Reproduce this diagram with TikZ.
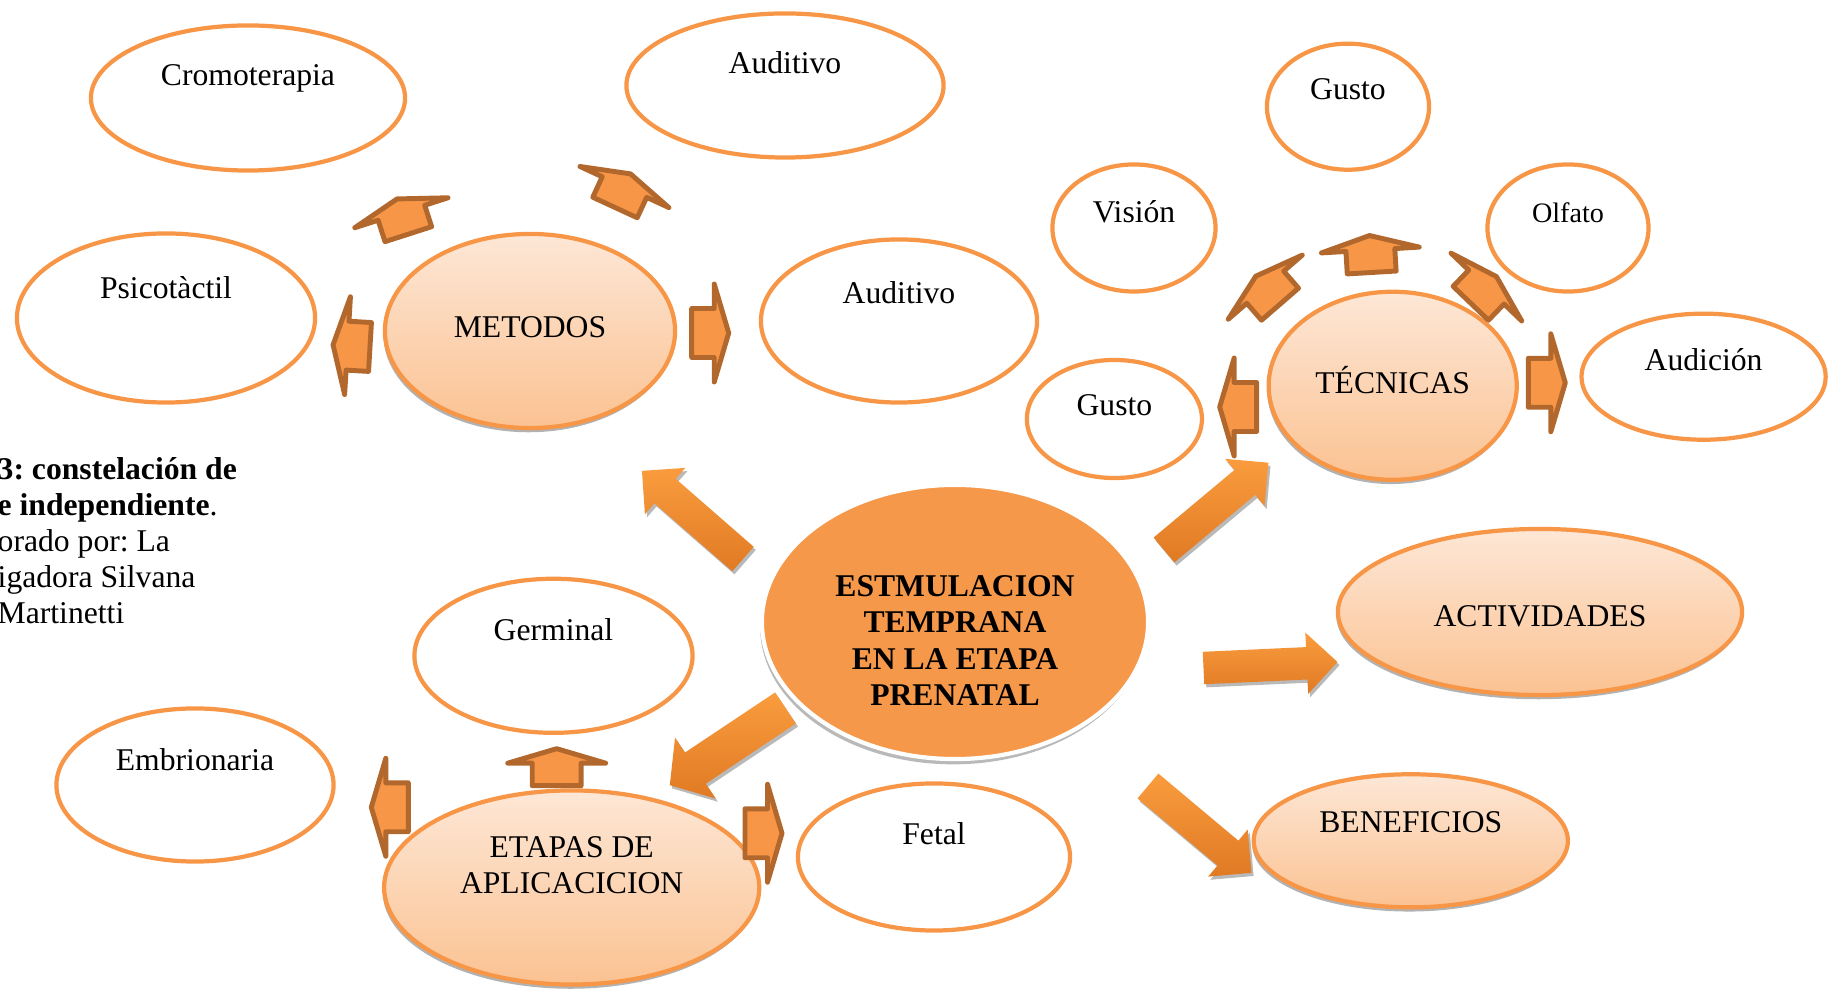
\documentclass[tikz,border=0pt]{standalone}
\usepackage{fontspec}
\setmainfont{Liberation Serif}
\usetikzlibrary{shapes.geometric,shapes.arrows,shadows}

\definecolor{ringOrange}{RGB}{247,150,70}
\definecolor{hubTop}{RGB}{253,231,214}
\definecolor{hubBottom}{RGB}{251,194,146}
\definecolor{coreFill}{RGB}{246,152,74}
\definecolor{tipFill}{RGB}{247,150,70}
\definecolor{tipEdge}{RGB}{178,104,45}
\definecolor{bigLight}{RGB}{250,156,62}
\definecolor{bigDark}{RGB}{224,122,36}

\newcommand\nineSz{\fontsize{9}{10.4}\selectfont}

\tikzset{
  leaf/.style={ellipse, draw=ringOrange, line width=1.2pt, fill=white, inner sep=0pt, outer sep=0pt},
  hub/.style={leaf, top color=hubTop, bottom color=hubBottom,
    drop shadow={shadow xshift=-0.4pt, shadow yshift=-1.2pt, opacity=1, fill=gray!60}},
  core/.style={ellipse, fill=coreFill, draw=white, line width=1.2pt, inner sep=0pt, outer sep=0pt,
    drop shadow={shadow xshift=-0.5pt, shadow yshift=-1.5pt, opacity=1, fill=gray!55}},
  txt/.style={anchor=north, inner sep=0pt, align=center, yshift={0.03cm-#1}},
  houseArr/.style={single arrow, draw=tipEdge, fill=tipFill, line width=1.4pt, line join=round,
    inner xsep=0pt, inner ysep=0.22cm, outer sep=0pt, anchor=tail, minimum height=0.37cm, minimum width=0pt,
    single arrow head extend=0.245cm, single arrow tip angle=147},
  bigArr/.style={single arrow, draw=none, top color=bigLight, bottom color=bigDark,
    inner xsep=0pt, inner ysep=0.155cm, outer sep=0pt, anchor=tail, minimum width=0pt,
    single arrow head extend=0.145cm, single arrow tip angle=90,
    drop shadow={shadow xshift=0.6pt, shadow yshift=-0.9pt, opacity=1, fill=gray!55}}
}

\begin{document}
\frenchspacing
\begin{tikzpicture}[x=0.01cm, y=-0.01cm, font=\nineSz]
  \useasboundingbox (0,0) rectangle (1829,989);

  % METODOS group
  \node[leaf, minimum width=3.14cm, minimum height=1.45cm, label={[txt=0.41cm]north:Cromoterapia}] (crom) at (248,98) {};
  \node[leaf, minimum width=3.17cm, minimum height=1.44cm, label={[txt=0.40cm]north:Auditivo}] (audT) at (785,85.5) {};
  \node[leaf, minimum width=2.98cm, minimum height=1.69cm, label={[txt=0.45cm]north:Psicotàctil}] (psico) at (166,318) {};
  \node[leaf, minimum width=2.76cm, minimum height=1.63cm, label={[txt=0.44cm]north:Auditivo}] (audR) at (899,321) {};
  \node[hub, minimum width=2.90cm, minimum height=1.94cm, label={[txt=0.85cm]north:METODOS}] (metodos) at (530,331) {};

  % TECNICAS group
  \node[leaf, minimum width=1.62cm, minimum height=1.26cm, label={[txt=0.37cm]north:Gusto}] (gustoT) at (1348,106.7) {};
  \node[leaf, minimum width=1.63cm, minimum height=1.27cm, label={[txt=0.38cm]north:Visión}] (vision) at (1134,228) {};
  \node[leaf, minimum width=1.61cm, minimum height=1.27cm, label={[txt=0.41cm, font=\fontsize{8}{9.6}\selectfont]north:Olfato}] (olfato) at (1568,228) {};
  \node[leaf, minimum width=1.75cm, minimum height=1.18cm, label={[txt=0.37cm]north:Gusto}] (gustoL) at (1114.4,419) {};
  \node[leaf, minimum width=2.44cm, minimum height=1.26cm, label={[txt=0.37cm]north:Audición}] (audicion) at (1703.6,376.7) {};
  \node[hub, minimum width=2.48cm, minimum height=1.88cm, label={[txt=0.77cm]north:TÉCNICAS}] (tecnicas) at (1392.7,385.8) {};

  % ETAPAS group
  \node[leaf, minimum width=2.78cm, minimum height=1.54cm, label={[txt=0.42cm]north:Germinal}] (germinal) at (553.5,655.8) {};
  \node[leaf, minimum width=2.77cm, minimum height=1.53cm, label={[txt=0.42cm]north:Embrionaria}] (embrio) at (195,785) {};
  \node[leaf, minimum width=2.72cm, minimum height=1.47cm, label={[txt=0.41cm]north:Fetal}] (fetal) at (934,857) {};
  \node[hub, minimum width=3.75cm, minimum height=1.94cm, label={[txt=0.48cm]north:ETAPAS DE\\APLICACICION}] (etapas) at (571.7,887.5) {};

  % right side
  \node[hub, minimum width=4.04cm, minimum height=1.66cm, label={[txt=0.785cm]north:ACTIVIDADES}] (activ) at (1540,612) {};
  \node[hub, minimum width=3.14cm, minimum height=1.33cm, label={[txt=0.40cm]north:BENEFICIOS}] (benef) at (1410.8,840.8) {};

  % centre
  \node[core, minimum width=3.86cm, minimum height=2.74cm,
    label={[txt=0.925cm, font=\nineSz\bfseries]north:ESTMULACION\\TEMPRANA\\EN LA ETAPA\\PRENATAL}] (core) at (955,622) {};

  % big arrows out of the centre
  \foreach \x/\y/\a/\len [count=\i] in {743/559/138.9/1.34, 1164/550/39.9/1.36, 1203.5/668/2.6/1.34, 1148/786/-40/1.35} {
    \node[bigArr, rotate=\a, minimum height=\len cm] (big\i) at (\x,\y) {};
  }
  \node[bigArr, rotate=213.7, minimum height=1.39cm, inner ysep=0.18cm,
    single arrow head extend=0.18cm, single arrow tip angle=100] (big5) at (785.5,708) {};

  % small arrows round the hubs
  \foreach \x/\y/\a [count=\i] in {691.7/333/0, 370/347/176.6, 408.3/234.2/107.8, 615/207.5/65.2,
      556.7/785.7/90, 408.3/807.3/180, 745/833.3/0,
      1528.3/382.8/0, 1256.7/407/180, 1371.7/272.5/93.4, 1280/304.2/130.9, 1470.8/303.3/46.2} {
    \node[houseArr, rotate=\a] (h\i) at (\x,\y) {};
  }

  % caption, cut off at the left edge
  \node[anchor=north west, inner sep=0pt, align=left, font=\fontsize{9}{10.2}\selectfont] (note) at (-3,457)
    {\textbf{3: constelación de}\\\textbf{e independiente}.\\orado por: La\\igadora Silvana\\Martinetti};
\end{tikzpicture}
\end{document}
